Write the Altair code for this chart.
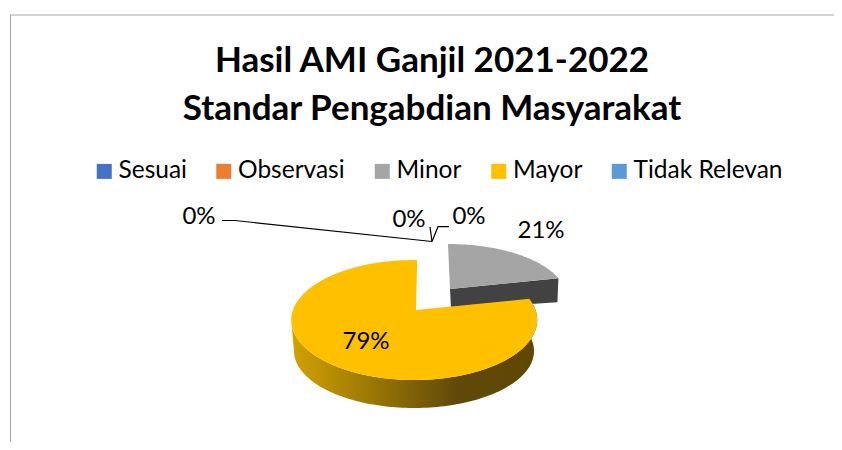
import numpy as np
import pandas as pd
import altair as alt

CATS = ["Sesuai", "Observasi", "Minor", "Mayor", "Tidak Relevan"]
SHARES = [0, 0, 21, 79, 0]
COLORS = ["#4472C4", "#ED7D31", "#A5A5A5", "#FFC000", "#5B9BD5"]
TITLE = ["Hasil AMI Ganjil 2021-2022", "Standar Pengabdian Masyarakat"]

LABEL_TEXT = ["0%", "0%", "21%", "79%", "0%"]
LABEL_X = [199, 469, 541, 366, 409]
LABEL_Y = [217, 217, 231, 342, 220]

LEADER_ID = [0, 0, 0, 1, 1, 2, 2, 2]
LEADER_X = [222, 235, 432, 432, 430, 432, 438, 449]
LEADER_Y = [220.5, 220.5, 241.5, 241.5, 227, 241.5, 226.7, 226.7]

# page-pixel geometry of the tilted, exploded pie
W, H = 826, 434
FONT = "Lato"

def view_angle(deg):
    d = np.asarray(deg, dtype=float)
    return d - 13 * np.sin(np.radians(2 * d))

def ell(cx, cy, rx, ry, t):
    r = np.radians(t)
    return cx + rx * np.sin(r), cy - ry * np.cos(r)

def poly(xs, ys, **kw):
    return pd.DataFrame({"x": xs, "y": ys, "o": np.arange(len(xs)), **kw})

cum = np.cumsum([0] + SHARES) * 3.6
minor_a, minor_b = view_angle(cum[2]), view_angle(cum[3])
mayor_a, mayor_b = view_angle(cum[3]), view_angle(cum[4]) + 1.4

# Minor slice
gx, gy = ell(448, 297, 118, 53, np.linspace(minor_a, minor_b, 50))
gapex = (450, 289)
gray_top = poly(np.r_[gapex[0], gx], np.r_[gapex[1], gy], cat="Minor")
gray_side = poly(
    [gapex[0], gx[-1], gx[-1] - 1, gapex[0] + 1],
    [gapex[1], gy[-1], gy[-1] + 24, gapex[1] + 20],
)

# Mayor slice
yx, yy = ell(414.2, 320, 123, 60, np.linspace(mayor_a, mayor_b, 160))
yapex = (416, 310)
yellow_top = poly(np.r_[yapex[0], yx], np.r_[yapex[1], yy], cat="Mayor")
ts = np.linspace(mayor_a, 270, 120)
ux, uy = ell(414.2, 320, 123, 60, ts)
lx, ly = ell(414, 351, 120, 57, ts[::-1])
yellow_side = poly(np.r_[ux, lx], np.r_[uy, ly])

X = alt.X("x:Q", scale=alt.Scale(domain=[8, 8 + W]), axis=None)
Y = alt.Y("y:Q", scale=alt.Scale(domain=[8 + H, 8]), axis=None)
O = alt.Order("o:Q")

side_grad = alt.Gradient(
    gradient="linear", x1=0, x2=1, y1=0, y2=0,
    stops=[
        alt.GradientStop(color="#D2A200", offset=0),
        alt.GradientStop(color="#60480A", offset=0.68),
        alt.GradientStop(color="#604800", offset=1),
    ],
)

color = alt.Color(
    "cat:N",
    scale=alt.Scale(domain=CATS, range=COLORS),
    legend=alt.Legend(
        title=None, orient="none", legendX=84, legendY=151, direction="horizontal",
        columns=5, columnPadding=24.5, symbolType="square", symbolSize=225,
        symbolStrokeWidth=0, symbolOffset=0, labelOffset=2, labelFont=FONT,
        labelFontSize=24.5, labelColor="#000000", labelLimit=300, padding=0,
        symbolOpacity=1,
    ),
)

g_side = alt.Chart(gray_side).mark_line(filled=True, fill="#424242", strokeWidth=0).encode(X, Y, O)
g_top = alt.Chart(gray_top).mark_line(filled=True, strokeWidth=0).encode(X, Y, O, color=color)
y_side = alt.Chart(yellow_side).mark_line(filled=True, fill=side_grad, strokeWidth=0).encode(X, Y, O)
y_top = alt.Chart(yellow_top).mark_line(filled=True, strokeWidth=0).encode(X, Y, O, color=color)

leaders = alt.Chart(pd.DataFrame({"x": LEADER_X, "y": LEADER_Y, "id": LEADER_ID, "o": range(len(LEADER_X))})).mark_line(
    color="#000000", strokeWidth=1.2
).encode(X, Y, O, detail="id:N")

labels = alt.Chart(pd.DataFrame({"x": LABEL_X, "y": LABEL_Y, "t": LABEL_TEXT})).mark_text(
    font=FONT, fontSize=24, color="#000000", align="center", baseline="middle"
).encode(X, Y, text="t:N")

border_v = alt.Chart(pd.DataFrame({"x": [10.5], "y": [15], "y2": [8 + H]})).mark_rule(color="#A6A6A6", strokeWidth=1).encode(
    X, Y, y2="y2:Q"
)
border_h = alt.Chart(pd.DataFrame({"x": [10], "x2": [8 + W], "y": [15]})).mark_rule(color="#A6A6A6", strokeWidth=1).encode(
    X, Y, x2="x2:Q"
)

chart = (
    alt.layer(border_v, border_h, g_side, g_top, y_side, y_top, leaders, labels)
    .properties(
        width=W, height=H, padding=0,
        autosize=alt.AutoSizeParams(type="none"),
        title=alt.TitleParams(
            text=TITLE, font=FONT, fontSize=35, fontWeight="bold", color="#000000",
            anchor="middle", lineHeight=48, dx=11, dy=146.5, baseline="alphabetic", offset=0,
        ),
    )
    .configure_view(stroke=None)
)
chart.save("out.html", embed_options={"renderer": "svg", "actions": False})
